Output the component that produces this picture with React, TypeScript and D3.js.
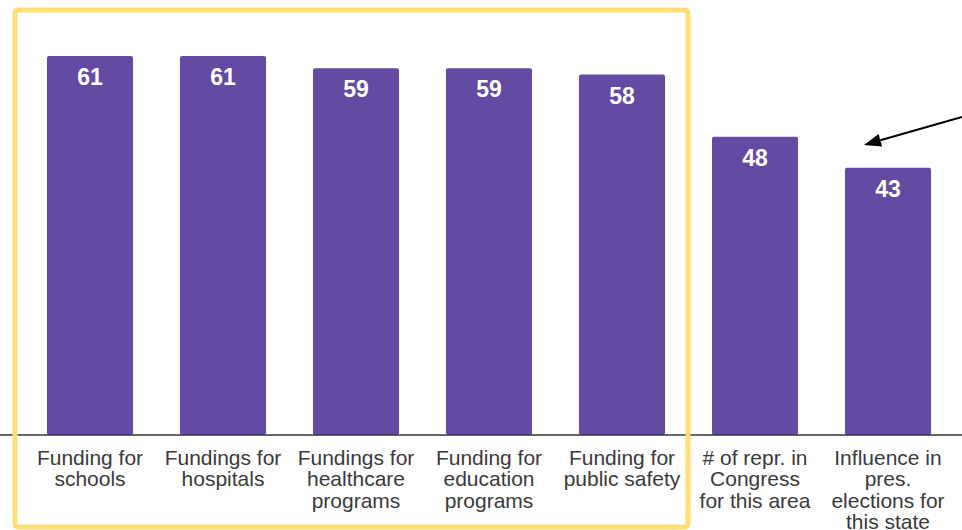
import React from "react";
import * as d3 from "d3";

const categories: string[][] = [
  ["Funding for", "schools"],
  ["Fundings for", "hospitals"],
  ["Fundings for", "healthcare", "programs"],
  ["Funding for", "education", "programs"],
  ["Funding for", "public safety"],
  ["# of repr. in", "Congress", "for this area"],
  ["Influence in", "pres.", "elections for", "this state"],
];
const values: number[] = [61, 61, 59, 59, 58, 48, 43];

const W = 962;
const H = 530;

export default function App() {
  const idx = categories.map((_, i) => i);
  const x = d3.scaleBand<number>().domain(idx).range([23.5, 954.5]).paddingInner(0.353).paddingOuter(0.1765);
  const y = d3.scaleLinear().domain([0, 70]).range([435, 0]);
  const font = "'Liberation Sans', Arial, sans-serif";
  // arrow
  const ax1 = 962, ay1 = 117, ax2 = 864, ay2 = 145;
  const ang = Math.atan2(ay2 - ay1, ax2 - ax1);
  const hl = 17, hw = 6.5;
  const bx = ax2 - hl * Math.cos(ang), by = ay2 - hl * Math.sin(ang);
  const px = -Math.sin(ang), py = Math.cos(ang);
  const head = `M${ax2},${ay2} L${bx + px * hw},${by + py * hw} L${bx - px * hw},${by - py * hw} Z`;
  return (
    <svg width={W} height={H} style={{ position: "absolute", left: 0, top: 0, background: "#fff" }}>
      {values.map((v, i) => (
        <g key={i}>
          <rect x={x(i)} y={y(v)} width={x.bandwidth()} height={y(0) - y(v)} rx={2} fill="#634ba3" />
          <text x={(x(i) as number) + x.bandwidth() / 2} y={y(v) + 29} textAnchor="middle" fill="#fff" fontFamily={font} fontWeight="bold" fontSize={23}>{v}</text>
          <text x={(x(i) as number) + x.bandwidth() / 2} fill="#3a3a3a" fontFamily={font} fontSize={21} textAnchor="middle">
            {categories[i].map((l, j) => (
              <tspan key={j} x={(x(i) as number) + x.bandwidth() / 2} y={465 + j * 21.3}>{l}</tspan>
            ))}
          </text>
        </g>
      ))}
      <line x1={0} x2={W} y1={435} y2={435} stroke="#333" strokeWidth={1.5} />
      <rect x={15} y={10} width={673} height={517} rx={3} fill="none" stroke="#ffde75" strokeWidth={5} />
      <line x1={ax1} y1={ay1} x2={bx} y2={by} stroke="#000" strokeWidth={2} />
      <path d={head} fill="#000" />
    </svg>
  );
}
